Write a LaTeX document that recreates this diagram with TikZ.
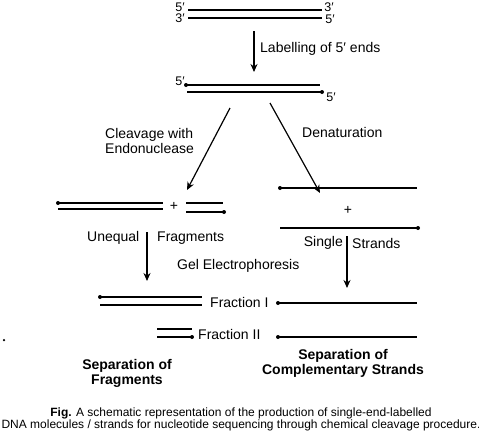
\documentclass[tikz,border=0pt]{standalone}
\usepackage{fontspec}
\setmainfont{Liberation Sans}
\usetikzlibrary{arrows.meta}

\begin{document}
\begin{tikzpicture}[x=1pt, y=-1pt,
    dot/.style = {circle, fill, minimum size=#1,
                inner sep=0pt, outer sep=0pt},
    dot/.default = 4pt,  % labelled 5' end
    strand/.style = {line width=1.3pt},
    flow/.style = {line width=1.2pt, -{Stealth[length=8pt, width=7pt]}},
    lbl/.style = {font=\fontsize{14}{15}\selectfont, inner sep=0pt},
    endlbl/.style = {font=\fontsize{12.5}{13}\selectfont, inner sep=0pt},
    head/.style = {font=\fontsize{14}{15}\selectfont\bfseries, align=center, inner sep=0pt}
                    ]
        \useasboundingbox (0,0) rectangle (479,432);
        \foreach \v/\xa/\xb/\y in {ds1/188/322/10, ds2/188/322/18, lb1/186/320/85, lb2/187/322/92,
                                   fl1/58/163/203, fl2/58/163/209, fs1/186/223/203, fs2/186/224/212,
                                   ss1/280/417/188, ss2/280/418/228,
                                   fa1/100/202/297, fa2/100/202/305, fb1/157/192/329, fb2/157/192/337,
                                   ga/278/417/303, gb/278/417/337}
            \draw[strand] (\xa,\y) coordinate (\v-l) -- (\xb,\y) coordinate (\v-r);
        \foreach \c in {lb1-l, lb2-r, fl1-l, fs2-r, ss1-l, ss2-r, fa1-l, fb2-r, ga-l, gb-l}
            \node[dot] (\c-dot) at (\c) {};
        \foreach \x/\y/\v/\t in {180/7/p1/5′, 180/18/p2/3′, 329/7/p3/3′, 330/19/p4/5′,
                                 180/81/p5/5′, 331/97/p6/5′}
            \node[endlbl] (\v) at (\x,\y) {\t};
        \node[lbl] (plusL) at (174,206) {+};
        \node[lbl] (plusR) at (348,210) {+};

        \coordinate (lab-a) at (254,31);
        \coordinate (lab-b) at (254,72);
        \coordinate (cut-a) at (230,108);
        \coordinate (cut-b) at (187,190);
        \coordinate (den-a) at (270,103);
        \coordinate (den-b) at (320,193);
        \coordinate (gelL-a) at (147,232);
        \coordinate (gelL-b) at (147,281);
        \coordinate (gelR-a) at (347,236);
        \coordinate (gelR-b) at (347,288);
        \draw[flow] (lab-a) -- (lab-b);
        \draw[flow] (cut-a) -- (cut-b);
        \draw[flow] (den-a) -- (den-b);
        \draw[flow] (gelL-a) -- (gelL-b);
        \draw[flow] (gelR-a) -- (gelR-b);

        \node[lbl, anchor=west] (labelling) at (260,49) {Labelling of 5′ ends};
        \node[lbl, anchor=west, align=left] (cleavage) at (105,140.5) {Cleavage with\\Endonuclease};
        \node[lbl, anchor=west] (denat) at (302,132) {Denaturation};
        \node[lbl, anchor=west] (unequal) at (87,238) {Unequal};
        \node[lbl, anchor=west] (fragm) at (157,238) {Fragments};
        \node[lbl, anchor=west] (gel) at (177,266) {Gel Electrophoresis};
        \node[lbl, anchor=east] (single) at (343,243) {Single};
        \node[lbl, anchor=west] (strands) at (352,243) {Strands};
        \node[lbl, anchor=west] (fracI) at (210,302) {Fraction I};
        \node[lbl, anchor=west] (fracII) at (198,334) {Fraction II};
        \node[dot=2.5pt] (speck) at (4,340) {};
        \node[head] (sepL) at (127,373) {Separation of\\Fragments};
        \node[head] (sepR) at (343,363) {Separation of\\Complementary Strands};
        \node[font=\fontsize{12}{12}\selectfont, align=center, inner sep=0pt] (caption) at (241,419.5)
            {\textbf{Fig.} A schematic representation of the production of single-end-labelled\\
             DNA molecules / strands for nucleotide sequencing through chemical cleavage procedure.};
    \end{tikzpicture}
\end{document}
